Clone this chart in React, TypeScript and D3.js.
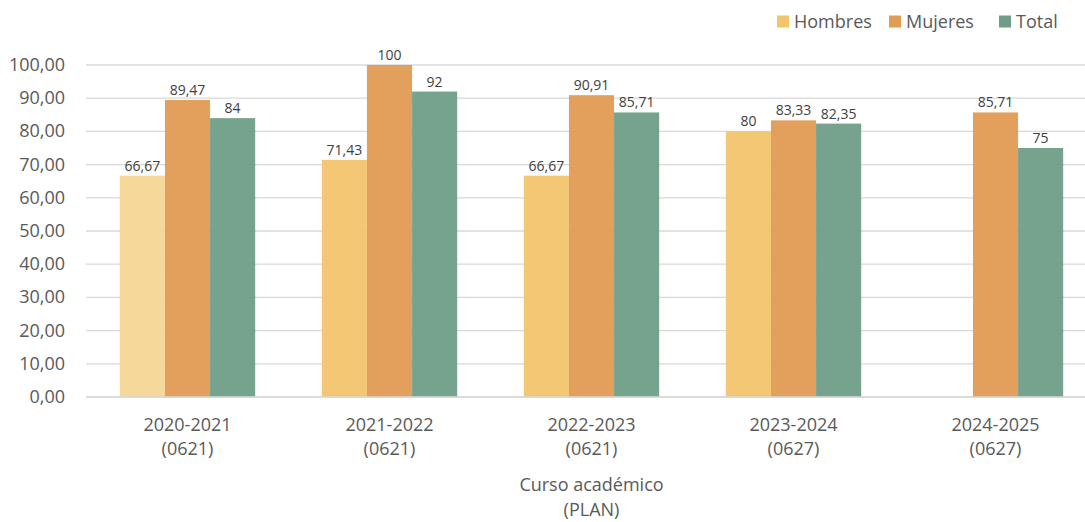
import React from "react";
import * as d3 from "d3";

const categories = [
  ["2020-2021", "(0621)"],
  ["2021-2022", "(0621)"],
  ["2022-2023", "(0621)"],
  ["2023-2024", "(0627)"],
  ["2024-2025", "(0627)"],
];
const seriesNames = ["Hombres", "Mujeres", "Total"];
const hombres = [66.67, 71.43, 66.67, 80, null];
const mujeres = [89.47, 100, 90.91, 83.33, 85.71];
const total = [84, 92, 85.71, 82.35, 75];
const yTicks = [0, 10, 20, 30, 40, 50, 60, 70, 80, 90, 100];

const colors = ["#F2C46B", "#E29B54", "#6F9E88"];
const fadedHombres = "#F5D696"; // the first Hombres bar is paler in the original

const width = 1085;
const height = 522;
const font = "'Open Sans', sans-serif";
const textColor = "#595959";
const gridColor = "#D9D9D9";

const App = () => {
  const values = [hombres, mujeres, total];
  const keys = categories.map((c) => c.join(" "));

  const x = d3
    .scaleBand()
    .domain(keys)
    .range([86.5, 1096.5])
    .paddingInner(0.33)
    .paddingOuter(0.165);
  const xs = d3.scaleBand().domain(seriesNames).range([0, x.bandwidth()]);
  const y = d3.scaleLinear().domain([0, 100]).range([397, 65]);
  const fmt = (v) => String(v).replace(".", ",");

  return (
    <svg
      width={width}
      height={height}
      style={{ position: "absolute", left: 0, top: 0, background: "#fff" }}
      fontFamily={font}
    >
      {/* gridlines */}
      {yTicks.map((t) => (
        <g key={t}>
          <line x1={86} x2={width} y1={y(t)} y2={y(t)} stroke={gridColor} strokeWidth={1.3} />
          <text x={65} y={y(t) + 6} textAnchor="end" fontSize={18} fill={textColor}>
            {d3.format(".2f")(t).replace(".", ",")}
          </text>
        </g>
      ))}

      {/* bars */}
      {keys.map((k, i) => (
        <g key={k} transform={`translate(${x(k)},0)`}>
          {seriesNames.map((s, j) => {
            const v = values[j][i];
            if (v == null) return null;
            const fill = j === 0 && i === 0 ? fadedHombres : colors[j];
            return (
              <g key={s}>
                <rect
                  x={xs(s)}
                  y={y(v)}
                  width={xs.bandwidth()}
                  height={y(0) - y(v)}
                  fill={fill}
                  fillOpacity={0.95}
                />
                <text
                  x={xs(s) + xs.bandwidth() / 2}
                  y={y(v) - 5}
                  textAnchor="middle"
                  fontSize={14}
                  fill="#404040"
                >
                  {fmt(v)}
                </text>
              </g>
            );
          })}
        </g>
      ))}

      {/* x axis line */}
      <line x1={86} x2={width} y1={y(0)} y2={y(0)} stroke={gridColor} strokeWidth={1.3} />

      {/* category labels */}
      {categories.map((c, i) => (
        <text
          key={keys[i]}
          x={x(keys[i]) + x.bandwidth() / 2}
          textAnchor="middle"
          fontSize={18}
          fill={textColor}
        >
          <tspan x={x(keys[i]) + x.bandwidth() / 2} y={431}>{c[0]}</tspan>
          <tspan x={x(keys[i]) + x.bandwidth() / 2} y={455}>{c[1]}</tspan>
        </text>
      ))}

      {/* axis title */}
      <text textAnchor="middle" fontSize={18} fill={textColor}>
        <tspan x={591.5} y={491}>Curso académico</tspan>
        <tspan x={591.5} y={516}>(PLAN)</tspan>
      </text>

      {/* legend */}
      {seriesNames.map((s, j) => {
        const lx = [777, 889, 999][j];
        return (
          <g key={s}>
            <rect x={lx} y={15.5} width={12} height={12} fill={colors[j]} />
            <text x={lx + 17} y={28} fontSize={18} fill={textColor}>
              {s}
            </text>
          </g>
        );
      })}
    </svg>
  );
};

export default App;
